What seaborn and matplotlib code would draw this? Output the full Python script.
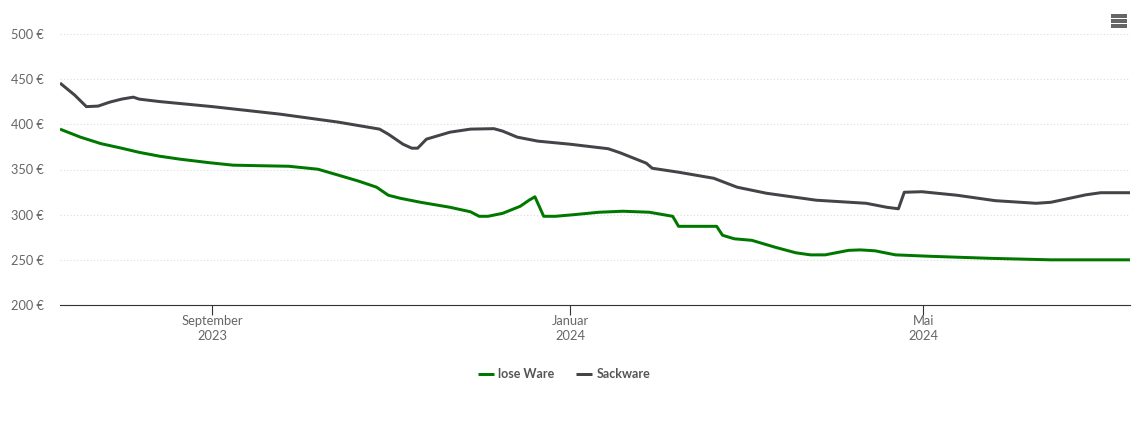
import pandas as pd
import numpy as np
import matplotlib.pyplot as plt
import seaborn as sns
from matplotlib.patches import Rectangle


#######################
### 그래프 데이터 입력 ###
#######################

# 로제 상품 (lose Ware) 가격
lose_dates = ["2023-07-11", "2023-07-18", "2023-07-25", "2023-08-01", "2023-08-07", "2023-08-14",
              "2023-08-21", "2023-08-31", "2023-09-08", "2023-09-17", "2023-09-27", "2023-10-07",
              "2023-10-14", "2023-10-21", "2023-10-27", "2023-10-31", "2023-11-04", "2023-11-11",
              "2023-11-21", "2023-11-28", "2023-12-01", "2023-12-04", "2023-12-09", "2023-12-15",
              "2023-12-18", "2023-12-20", "2023-12-21", "2023-12-23", "2023-12-27", "2024-01-02",
              "2024-01-11", "2024-01-19", "2024-01-28", "2024-02-05", "2024-02-07", "2024-02-20",
              "2024-02-22", "2024-02-26", "2024-03-03", "2024-03-11", "2024-03-18", "2024-03-23",
              "2024-03-28", "2024-04-05", "2024-04-09", "2024-04-14", "2024-04-21", "2024-05-03",
              "2024-05-23", "2024-06-13", "2024-07-10"]
lose_values = [394.7, 385.8, 378.6, 373.6, 369.0, 364.7,
               361.4, 357.5, 354.8, 354.2, 353.6, 350.3,
               343.7, 337.0, 330.4, 321.5, 318.2, 313.7,
               308.2, 303.2, 298.2, 298.2, 301.5, 309.3,
               316.0, 319.8, 312.6, 298.2, 298.2, 299.9,
               302.7, 303.8, 302.7, 298.2, 287.1, 287.1,
               277.2, 273.3, 271.6, 263.9, 257.8, 255.5,
               255.5, 260.5, 261.0, 260.0, 255.5, 253.9,
               251.7, 250.0, 250.0]

# 포대 상품 (Sackware) 가격
sack_dates = ["2023-07-11", "2023-07-16", "2023-07-20", "2023-07-24", "2023-07-28", "2023-08-01",
              "2023-08-05", "2023-08-07", "2023-08-14", "2023-09-01", "2023-09-24", "2023-10-14",
              "2023-10-28", "2023-10-31", "2023-11-05", "2023-11-08", "2023-11-10", "2023-11-11",
              "2023-11-13", "2023-11-21", "2023-11-28", "2023-12-06", "2023-12-09", "2023-12-14",
              "2023-12-21", "2024-01-01", "2024-01-14", "2024-01-18", "2024-01-27", "2024-01-29",
              "2024-02-07", "2024-02-19", "2024-02-27", "2024-03-08", "2024-03-25", "2024-04-11",
              "2024-04-18", "2024-04-22", "2024-04-24", "2024-04-30", "2024-05-12", "2024-05-25",
              "2024-06-08", "2024-06-13", "2024-06-25", "2024-06-30", "2024-07-10"]
sack_values = [445.7, 432.4, 419.6, 420.2, 424.6, 427.9,
               430.1, 427.9, 425.2, 419.6, 411.3, 402.4,
               394.7, 389.1, 378.0, 373.6, 373.6, 376.9,
               383.6, 391.3, 394.7, 395.2, 392.5, 385.8,
               381.4, 378.0, 373.0, 368.6, 357.0, 351.4,
               347.0, 340.3, 330.4, 323.7, 316.0, 312.6,
               308.2, 306.5, 324.8, 325.4, 321.5, 315.5,
               312.6, 313.7, 322.0, 324.3, 324.3]

# 축 눈금
x_tick_dates = ["2023-09-01 00:00", "2024-01-01 00:00", "2024-04-30 12:00"]
x_tick_labels = ["September\n2023", "Januar\n2024", "Mai\n2024"]
y_ticks = [200, 250, 300, 350, 400, 450, 500]

# 데이터프레임 생성
df_lose = pd.DataFrame({"Datum": pd.to_datetime(lose_dates), "Preis": lose_values, "Ware": "lose Ware"})
df_sack = pd.DataFrame({"Datum": pd.to_datetime(sack_dates), "Preis": sack_values, "Ware": "Sackware"})
df = pd.concat([df_lose, df_sack], ignore_index=True)


#################
### 그래프 그리기 ###
#################

sns.set_style("white")
plt.rcParams["font.family"] = ["Lato", "DejaVu Sans"]

plt.figure(figsize=(11.4, 4.34), dpi=100)
plt.subplots_adjust(left=60 / 1140, right=1130 / 1140, bottom=129 / 434, top=400 / 434)

sns.lineplot(data=df, x="Datum", y="Preis", hue="Ware", palette=["#007800", "#434348"], linewidth=2.15,
             estimator=None, sort=False, solid_capstyle="butt", zorder=3)

plt.xlim(pd.Timestamp("2023-07-11"), pd.Timestamp("2024-07-10"))
plt.ylim(200, 500)
plt.xlabel("")
plt.ylabel("")

# 눈금 및 격자선
plt.xticks(pd.to_datetime(x_tick_dates), x_tick_labels, fontsize=9.3, color="#666666", linespacing=1.3)
plt.yticks(y_ticks, [f"{v} €" for v in y_ticks], fontsize=9.2, color="#666666")
plt.tick_params(axis="x", bottom=True, length=7, width=0.8, color="#333333", pad=0.5)
plt.tick_params(axis="y", left=False, pad=8)
plt.grid(axis="y", color="#dcdcdc", linewidth=0.8, linestyle=(0, (1, 2)), clip_on=False)
sns.despine(left=True)
plt.gca().spines["bottom"].set_color("#333333")
plt.gca().spines["bottom"].set_linewidth(0.8)

# 범례
plt.legend(loc="center", bbox_to_anchor=(564 / 1140, 60 / 434), bbox_transform=plt.gcf().transFigure, ncol=2,
           frameon=False, handlelength=1.3, handletextpad=0.35, columnspacing=1.7,
           prop={"size": 9, "weight": "bold"}, labelcolor="#555555")

# 메뉴 아이콘
for y in [16, 21, 26]:
    plt.gcf().add_artist(Rectangle((1111 / 1140, 1 - (y + 1.5) / 434), 16 / 1140, 3 / 434,
                                   transform=plt.gcf().transFigure, facecolor="#666666", linewidth=0))

plt.savefig("out.png", dpi=100)
